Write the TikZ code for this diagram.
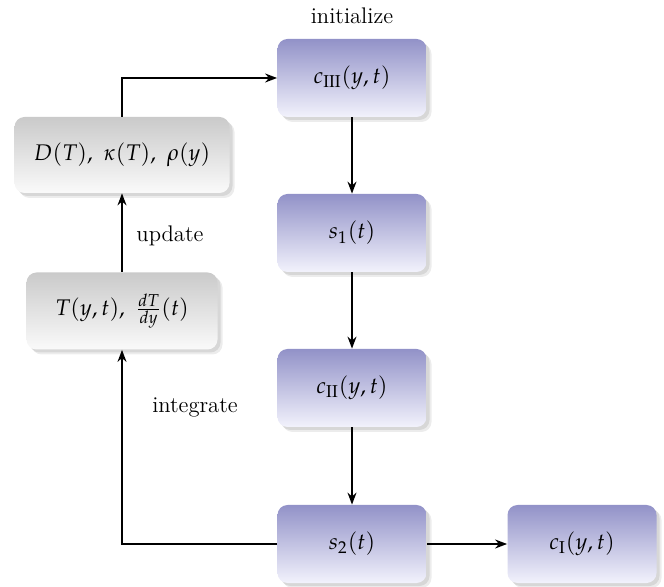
\documentclass[tikz,border=0pt]{standalone}
\usepackage{mathpazo}
\usetikzlibrary{arrows.meta,shadows,calc}
\begin{document}
\begin{tikzpicture}[x=0.5pt,y=-0.5pt,
  font=\fontsize{11.3}{13}\selectfont,
  basebox/.style={rounded corners=5pt, minimum height=39pt, inner sep=0pt,
    drop shadow={shadow xshift=2.5pt, shadow yshift=-2.5pt, opacity=0.15},
    drop shadow={shadow xshift=1.5pt, shadow yshift=-1.5pt, opacity=0.2}},
  bluebox/.style={basebox, minimum width=74.5pt,
    top color={rgb,255:red,146;green,146;blue,200},
    bottom color={rgb,255:red,242;green,242;blue,252}},
  graybox/.style={basebox,
    top color={rgb,255:red,202;green,202;blue,202},
    bottom color={rgb,255:red,250;green,250;blue,250}},
  conn/.style={line width=0.8pt, -{Stealth[length=6pt,width=4.5pt]}},
  lbl/.style={inner sep=0pt}
]
\useasboundingbox (0,0) rectangle (664,587);
\node[bluebox] (c3) at (352,78) {$c_{\mathrm{III}}(y,t)$};
\node[bluebox] (s1) at (352,233) {$s_1(t)$};
\node[bluebox] (c2) at (352,388) {$c_{\mathrm{II}}(y,t)$};
\node[bluebox] (s2) at (352,544) {$s_2(t)$};
\node[bluebox] (c1) at (582,544) {$c_{\mathrm{I}}(y,t)$};
\node[graybox, minimum width=107.5pt, minimum height=38pt] (D) at (122,155) {$D(T),\ \kappa(T),\ \rho(y)$};
\node[graybox, minimum width=95.5pt, minimum height=38.5pt] (T) at (122,311) {$T(y,t),\ \frac{dT}{dy}(t)$};

\node[lbl] (init) at (352,16) {initialize};
\node[lbl] (upd) at (170,236) {update};
\node[lbl] (integ) at (195,407) {integrate};

\draw[conn] (c3.south) -- (s1.north);
\draw[conn] (s1.south) -- (c2.north);
\draw[conn] (c2.south) -- (s2.north);
\draw[conn] (s2.east) -- (c1.west);
\draw[conn] (s2.west) -| (T.south);
\draw[conn] (T.north) -- (D.south);
\draw[conn] (D.north) |- (c3.west);
\end{tikzpicture}
\end{document}
